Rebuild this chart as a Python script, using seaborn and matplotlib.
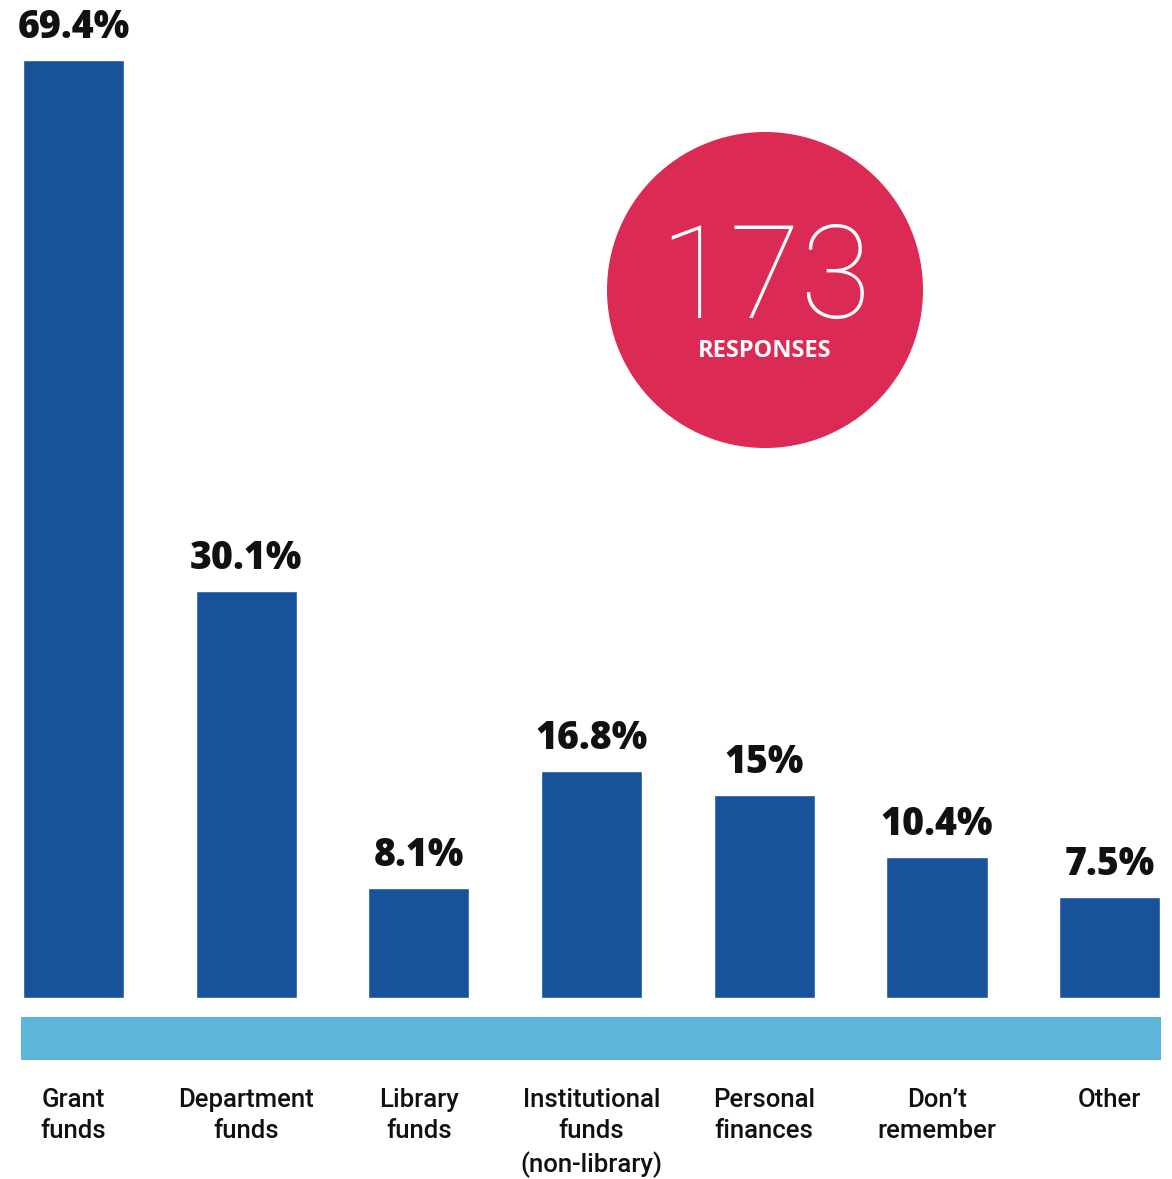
import matplotlib
matplotlib.use("Agg")
import matplotlib.pyplot as plt
from matplotlib.patches import Ellipse
import seaborn as sns
import pandas as pd

# Funding sources and share of respondents (%)
categories = ["Grant\nfunds", "Department\nfunds", "Library\nfunds",
              "Institutional\nfunds\n(non-library)", "Personal\nfinances",
              "Don\u2019t\nremember", "Other"]
values = [69.4, 30.1, 8.1, 16.8, 15, 10.4, 7.5]
responses = 173

BAR_BLUE = "#17529A"
BAND_BLUE = "#5BB6D8"
CIRCLE_RED = "#DB2A53"

sns.set_theme(style="white")
plt.rcParams["font.family"] = ["Roboto", "DejaVu Sans"]

W, H = 1172, 1179
fig = plt.figure(figsize=(W / 100, H / 100), dpi=100)
ax = fig.add_axes([0, 0, 1, 1])

df = pd.DataFrame({"category": categories, "value": values})
sns.barplot(data=df, x="category", y="value", color=BAR_BLUE, width=0.585,
            saturation=1, ax=ax)

# pixel-to-data mapping: bar spacing 172.7 px, 13.52 px per percentage point
px_x, px_y = 172.7, 13.52
base_px = 998  # baseline from top
ax.set_xlim(-73.5 / px_x, (W - 73.5) / px_x)
ax.set_ylim(-(H - base_px) / px_y, base_px / px_y)
ax.axis("off")

# light blue band under the bars
ax.axhspan((base_px - 1060) / px_y, (base_px - 1017) / px_y,
           xmin=21 / W, xmax=1161 / W, color=BAND_BLUE, lw=0)

# value labels above bars
for i, v in enumerate(values):
    ax.text(i, v + 22 / px_y, f"{v:g}%", ha="center", va="baseline",
            fontsize=27, fontweight="heavy", family=["Open Sans", "DejaVu Sans"],
            color="#111111")

# category labels below the band
for i, c in enumerate(categories):
    ax.text(i, (base_px - 1088) / px_y, c, ha="center", va="top",
            fontsize=18.5, fontweight="medium", color="#111111",
            linespacing=1.38)

# response count badge
cx, cy = (765 - 73.5) / px_x, (base_px - 290) / px_y
r = 158
ax.add_patch(Ellipse((cx, cy), 2 * r / px_x, 2 * r / px_y,
                     facecolor=CIRCLE_RED, edgecolor="none"))
ax.text(cx, (base_px - 318) / px_y, str(responses), ha="center",
        va="baseline", fontsize=93, fontweight="light", color="white")
ax.text(cx, (base_px - 357) / px_y, "RESPONSES", ha="center",
        va="baseline", fontsize=17, fontweight="bold",
        family=["Open Sans", "DejaVu Sans"], color="white")

fig.savefig("out.png", dpi=100)
